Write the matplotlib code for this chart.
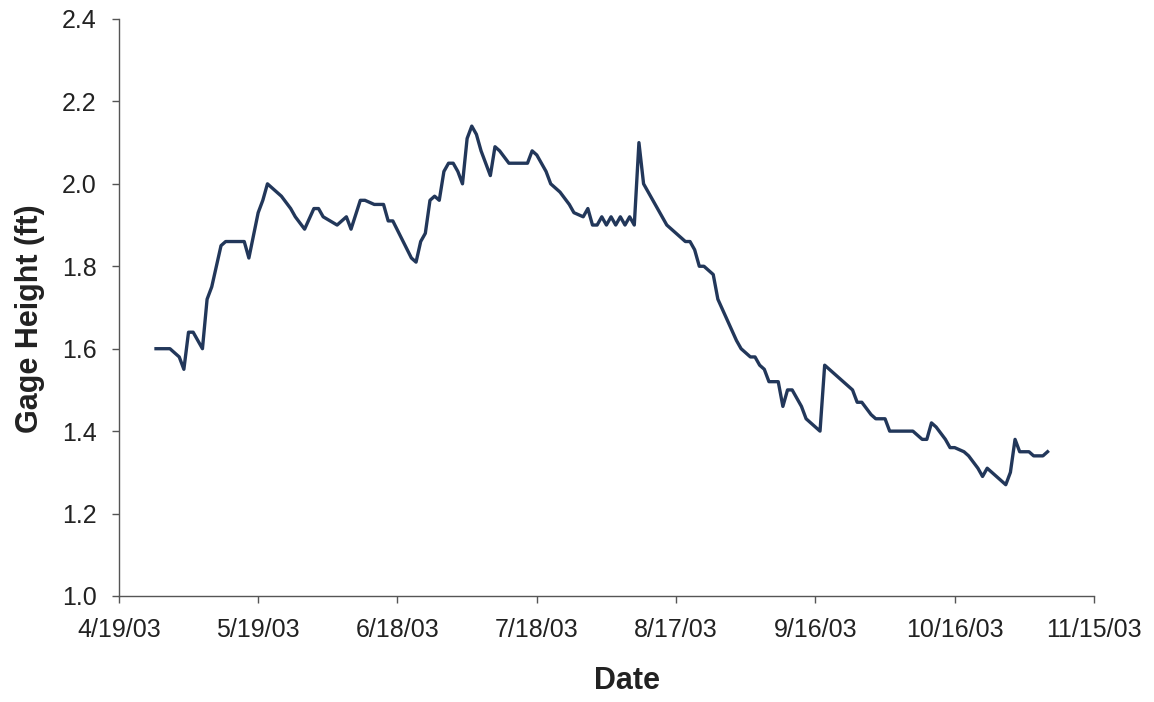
import numpy as np
import pandas as pd
import matplotlib.pyplot as plt

# Data (daily gage height, 2003)
dates = ["4/27", "4/30", "5/2", "5/3", "5/4", "5/5", "5/7", "5/8", "5/9", "5/11",
         "5/12", "5/16", "5/17", "5/19", "5/20", "5/21", "5/23", "5/24", "5/26", "5/27",
         "5/29", "5/31", "6/1", "6/2", "6/5", "6/6", "6/7", "6/8", "6/10", "6/11",
         "6/13", "6/15", "6/16", "6/17", "6/21", "6/22", "6/23", "6/24", "6/25", "6/26",
         "6/27", "6/28", "6/29", "6/30", "7/1", "7/2", "7/3", "7/4", "7/5", "7/6",
         "7/7", "7/8", "7/9", "7/10", "7/12", "7/16", "7/17", "7/18", "7/20", "7/21",
         "7/23", "7/25", "7/26", "7/28", "7/29", "7/30", "7/31", "8/1", "8/2", "8/3",
         "8/4", "8/5", "8/6", "8/7", "8/8", "8/9", "8/10", "8/12", "8/14", "8/15",
         "8/17", "8/19", "8/20", "8/21", "8/22", "8/23", "8/25", "8/26", "8/28", "8/30",
         "8/31", "9/2", "9/3", "9/4", "9/5", "9/6", "9/8", "9/9", "9/10", "9/11",
         "9/13", "9/14", "9/17", "9/18", "9/20", "9/22", "9/24", "9/25", "9/26", "9/28",
         "9/29", "10/1", "10/2", "10/5", "10/7", "10/9", "10/10", "10/11", "10/12", "10/14",
         "10/15", "10/16", "10/18", "10/19", "10/21", "10/22", "10/23", "10/25", "10/27", "10/28",
         "10/29", "10/30", "11/1", "11/2", "11/4", "11/5"]
gage_height = [1.60, 1.60, 1.58, 1.55, 1.64, 1.64, 1.60, 1.72, 1.75, 1.85,
               1.86, 1.86, 1.82, 1.93, 1.96, 2.00, 1.98, 1.97, 1.94, 1.92,
               1.89, 1.94, 1.94, 1.92, 1.90, 1.91, 1.92, 1.89, 1.96, 1.96,
               1.95, 1.95, 1.91, 1.91, 1.82, 1.81, 1.86, 1.88, 1.96, 1.97,
               1.96, 2.03, 2.05, 2.05, 2.03, 2.00, 2.11, 2.14, 2.12, 2.08,
               2.05, 2.02, 2.09, 2.08, 2.05, 2.05, 2.08, 2.07, 2.03, 2.00,
               1.98, 1.95, 1.93, 1.92, 1.94, 1.90, 1.90, 1.92, 1.90, 1.92,
               1.90, 1.92, 1.90, 1.92, 1.90, 2.10, 2.00, 1.96, 1.92, 1.90,
               1.88, 1.86, 1.86, 1.84, 1.80, 1.80, 1.78, 1.72, 1.67, 1.62,
               1.60, 1.58, 1.58, 1.56, 1.55, 1.52, 1.52, 1.46, 1.50, 1.50,
               1.46, 1.43, 1.40, 1.56, 1.54, 1.52, 1.50, 1.47, 1.47, 1.44,
               1.43, 1.43, 1.40, 1.40, 1.40, 1.38, 1.38, 1.42, 1.41, 1.38,
               1.36, 1.36, 1.35, 1.34, 1.31, 1.29, 1.31, 1.29, 1.27, 1.30,
               1.38, 1.35, 1.35, 1.34, 1.34, 1.35]

x = pd.to_datetime([d + "/2003" for d in dates], format="%m/%d/%Y")

plt.rcParams['font.family'] = ['Liberation Sans', 'DejaVu Sans']

fig = plt.figure(figsize=(11.54, 7.02), dpi=100)
ax = fig.add_axes([0.103, 0.151, 0.845, 0.822])

ax.plot(x, gage_height, color="#22375a", lw=2.4, solid_joinstyle="round")

# axes
tick_dates = pd.date_range("2003-04-19", periods=8, freq="30D")
ax.set_xticks(tick_dates)
ax.set_xticklabels([f"{d.month}/{d.day}/{d:%y}" for d in tick_dates])
ax.set_xlim(tick_dates[0], tick_dates[-1])
ax.set_ylim(1.0, 2.4)
yt = np.arange(1.0, 2.41, 0.2)
ax.set_yticks(yt)
ax.set_yticklabels([f"{v:.1f}" for v in yt])

for s in ["top", "right"]:
    ax.spines[s].set_visible(False)
for s in ["left", "bottom"]:
    ax.spines[s].set_color("#555555")
    ax.spines[s].set_linewidth(1.0)
ax.tick_params(axis="both", labelsize=18, color="#555555", length=5, width=1.0,
               labelcolor="#222222")
ax.tick_params(axis="x", pad=11)
ax.tick_params(axis="y", pad=11)

ax.set_xlabel("Date", fontsize=22, fontweight="bold", color="#222222")
ax.set_ylabel("Gage Height (ft)", fontsize=22, fontweight="bold", color="#222222")
ax.xaxis.set_label_coords(0.521, -0.122)
ax.yaxis.set_label_coords(-0.076, 0.48)

fig.savefig("out.png", dpi=100)
